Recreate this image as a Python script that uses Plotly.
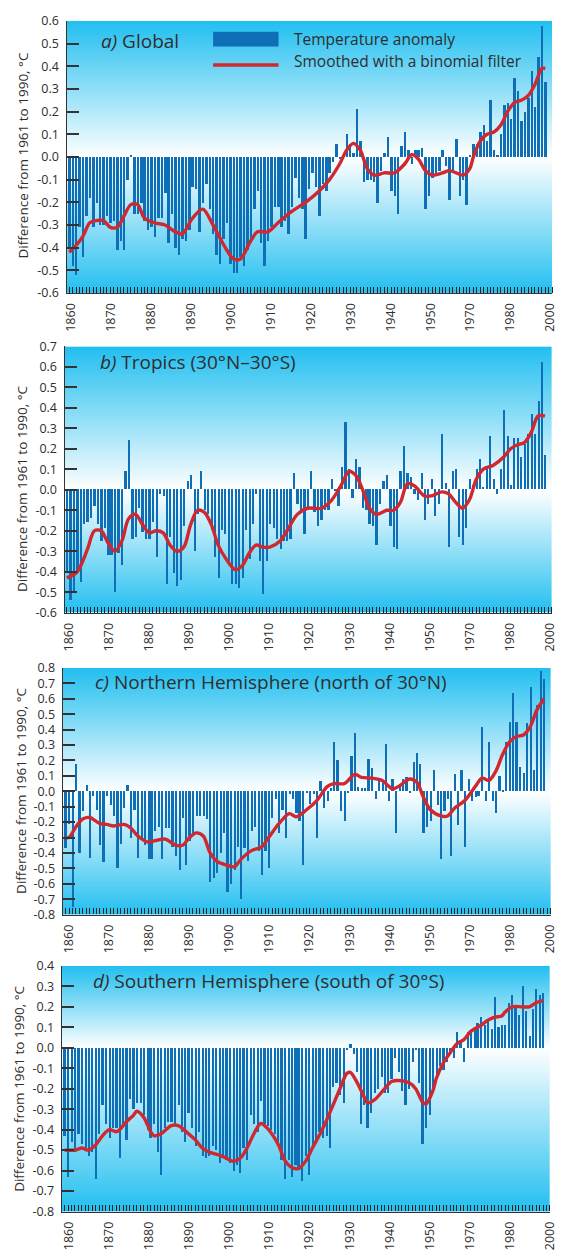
import numpy as np
import plotly.graph_objects as go

W, H = 564, 1258
FONT = "Open Sans"
TXT = "#2e2e2e"
BAR = "#0f6fb6"
RED = "#d0282e"
BG_EDGE = "#22bff0"

years = list(range(1860, 2000))

# ---------------- annual anomalies ----------------
global_anom = [
    -0.40, -0.48, -0.52, -0.31, -0.44, -0.26, -0.18, -0.31, -0.20, -0.30,
    -0.30, -0.26, -0.29, -0.28, -0.41, -0.37, -0.41, -0.10, 0.01, -0.25,
    -0.25, -0.20, -0.28, -0.32, -0.31, -0.35, -0.27, -0.27, -0.16, -0.38,
    -0.25, -0.40, -0.43, -0.36, -0.37, -0.32, -0.13, -0.14, -0.33, -0.20,
    -0.12, -0.23, -0.34, -0.43, -0.47, -0.36, -0.29, -0.47, -0.51, -0.51,
    -0.44, -0.48, -0.41, -0.38, -0.23, -0.15, -0.38, -0.48, -0.37, -0.31,
    -0.22, -0.22,
    -0.31, -0.28, -0.34, -0.22, -0.09, -0.18, -0.23, -0.36, -0.14, -0.07,
    -0.13, -0.26, -0.12, -0.15, -0.07, -0.02, 0.06, -0.01, 0.01, 0.10,
    0.06, 0.02, 0.21, 0.07, -0.11, -0.10, -0.10, -0.11, -0.20, -0.06,
    0.02, 0.09, -0.15, -0.17, -0.25, 0.05, 0.11, 0.03, -0.03, 0.03,
    0.03, 0.04, -0.23, -0.17, -0.09, -0.08, -0.06, 0.03, -0.04, -0.19,
    -0.06, 0.08, -0.17, -0.10, -0.21, 0.01, 0.06, 0.06, 0.11, 0.14,
    0.07, 0.25, 0.03, 0.01, 0.10, 0.23, 0.24, 0.17, 0.35, 0.29,
    0.16, 0.20, 0.26, 0.38, 0.22, 0.44, 0.58, 0.33,
]

tropics_anom = [
    -0.40, -0.54, -0.50, -0.40, -0.45, -0.17, -0.16, -0.14, -0.08, -0.17,
    -0.25, -0.19, -0.32, -0.32, -0.50, -0.31, -0.37, 0.09, 0.24, -0.24,
    -0.23, -0.09, -0.21, -0.24, -0.24, -0.16, -0.33, -0.02, -0.03, -0.46,
    -0.23, -0.41, -0.47, -0.44, -0.18, 0.04, 0.07, -0.30, -0.12, 0.09,
    -0.10, -0.12, -0.20, -0.33, -0.43, -0.20, -0.22, -0.35, -0.46, -0.46,
    -0.48, -0.43, -0.20, -0.34, -0.17, -0.02, -0.35, -0.51, -0.35, -0.17,
    -0.19, -0.24,
    -0.29, -0.25, -0.25, -0.24, 0.08, -0.07, -0.11, -0.22, -0.10, 0.09,
    -0.11, -0.18, -0.15, -0.10, -0.10, 0.05, -0.01, -0.08, 0.11, 0.33,
    0.10, -0.04, 0.15, 0.11, -0.09, -0.10, -0.17, -0.18, -0.27, -0.07,
    0.04, 0.07, -0.18, -0.28, -0.29, 0.09, 0.21, 0.08, 0.06, -0.02,
    -0.05, 0.08, -0.15, -0.07, 0.05, -0.13, -0.07, 0.27, 0.03, -0.28,
    0.09, 0.10, -0.23, -0.27, -0.19, 0.05, 0.02, 0.10, 0.15, 0.01,
    0.11, 0.26, 0.05, -0.02, 0.10, 0.39, 0.26, 0.02, 0.25, 0.25,
    0.16, 0.22, 0.27, 0.37, 0.27, 0.43, 0.62, 0.17,
]

nh_anom = [
    -0.37, -0.21, -0.75, 0.18, -0.40, -0.13, 0.04, -0.43, -0.03, -0.12,
    -0.35, -0.46, -0.03, -0.09, -0.16, -0.50, -0.34, -0.11, 0.04, -0.30,
    -0.12, -0.43, -0.31, -0.35, -0.44, -0.44, -0.26, -0.23, -0.44, -0.24,
    -0.24, -0.36, -0.42, -0.51, -0.17, -0.48, -0.32, -0.29, -0.16, -0.16,
    -0.16, -0.18, -0.59, -0.56, -0.53, -0.40, -0.27, -0.65, -0.60, -0.51,
    -0.36, -0.70, -0.37, -0.45, -0.26, -0.23, -0.39, -0.54, -0.39, -0.50,
    -0.17, -0.05,
    -0.27, -0.12, -0.30, -0.02, -0.05, -0.14, -0.19, -0.48, -0.01, -0.08,
    -0.02, -0.30, 0.07, -0.11, -0.06, 0.02, 0.32, 0.20, -0.13, -0.19,
    -0.01, 0.23, 0.38, 0.03, 0.02, 0.02, 0.21, 0.15, -0.05, 0.07,
    0.06, 0.31, -0.06, 0.08, -0.27, 0.05, 0.08, 0.09, -0.01, 0.19,
    0.25, 0.18, -0.27, -0.23, -0.19, 0.14, -0.09, -0.44, -0.13, -0.05,
    -0.42, 0.11, -0.22, 0.14, -0.36, 0.08, -0.06, -0.04, -0.03, 0.42,
    -0.06, 0.32, -0.06, -0.14, 0.10, 0.01, 0.32, 0.45, 0.64, 0.45,
    0.16, 0.12, 0.44, 0.68, 0.14, 0.56, 0.78, 0.73,
]

sh_anom = [
    -0.43, -0.63, -0.46, -0.51, -0.42, -0.47, -0.49, -0.53, -0.51, -0.64,
    -0.42, -0.28, -0.37, -0.44, -0.39, -0.39, -0.54, -0.38, -0.45, -0.25,
    -0.30, -0.27, -0.27, -0.33, -0.40, -0.44, -0.37, -0.51, -0.62, -0.39,
    -0.36, -0.36, -0.38, -0.28, -0.41, -0.46, -0.32, -0.39, -0.48, -0.41,
    -0.53, -0.54, -0.53, -0.48, -0.50, -0.56, -0.53, -0.55, -0.56, -0.60,
    -0.57, -0.61, -0.49, -0.55, -0.33, -0.37, -0.41, -0.26, -0.37, -0.38,
    -0.40, -0.42,
    -0.46, -0.55, -0.64, -0.55, -0.63, -0.57, -0.59, -0.65, -0.53, -0.62,
    -0.49, -0.46, -0.41, -0.44, -0.43, -0.49, -0.19, -0.17, -0.23, -0.27,
    -0.01, 0.02, -0.03, -0.12, -0.37, -0.28, -0.39, -0.32, -0.22, -0.20,
    -0.14, -0.22, -0.22, -0.15, -0.05, -0.12, -0.21, -0.28, -0.20, -0.07,
    -0.01, -0.17, -0.47, -0.39, -0.33, -0.21, -0.15, -0.09, -0.11, -0.07,
    -0.02, -0.05, 0.08, 0.04, -0.07, 0.08, 0.08, 0.10, 0.12, 0.15,
    0.11, 0.13, 0.09, 0.25, 0.10, 0.11, 0.11, 0.22, 0.26, 0.21,
    0.16, 0.30, 0.18, 0.06, 0.19, 0.29, 0.26, 0.27,
]

# ---------------- smoothed curves ----------------
global_sm_years = [1860, 1862, 1864, 1866, 1868, 1870, 1872, 1874, 1876, 1878,
                   1880, 1882, 1885, 1888, 1891, 1893, 1896, 1899, 1902, 1906,
                   1908, 1910, 1913, 1915, 1918, 1921, 1925, 1929, 1933, 1936,
                   1939, 1941, 1943, 1945, 1947, 1949, 1952, 1955, 1958, 1960,
                   1962, 1964, 1966, 1969, 1971, 1973, 1975, 1977, 1978, 1980,
                   1982, 1984, 1986, 1988, 1990, 1992, 1994, 1996, 1998, 1999]
global_sm = [-0.42, -0.39, -0.35, -0.29, -0.28, -0.28, -0.31, -0.31, -0.26, -0.21,
             -0.21, -0.27, -0.29, -0.30, -0.33, -0.34, -0.27, -0.23, -0.30, -0.41,
             -0.45, -0.45, -0.37, -0.33, -0.33, -0.29, -0.24, -0.20, -0.15, -0.10,
             -0.03, 0.03, 0.06, 0.03, -0.05, -0.08, -0.07, -0.07, -0.03, 0.01,
             -0.01, -0.06, -0.08, -0.07, -0.06, -0.07, -0.08, -0.05, 0.00, 0.07,
             0.10, 0.11, 0.14, 0.20, 0.24, 0.25, 0.27, 0.32, 0.39, 0.39]

tropics_sm_years = [1860, 1863, 1866, 1868, 1870, 1872, 1874, 1876, 1878, 1880,
                    1882, 1884, 1886, 1888, 1890, 1892, 1894, 1896, 1898, 1900,
                    1902, 1904, 1906, 1909, 1911, 1913, 1915, 1917, 1919, 1922,
                    1924, 1927, 1930, 1934, 1937, 1940, 1942, 1944, 1946, 1948,
                    1950, 1953, 1955, 1957, 1959, 1961, 1964, 1966, 1969, 1971,
                    1973, 1975, 1977, 1979, 1981, 1984, 1987, 1989, 1991, 1993,
                    1995, 1997, 1999]
tropics_sm = [-0.43, -0.40, -0.29, -0.20, -0.20, -0.26, -0.30, -0.25, -0.14, -0.12,
              -0.17, -0.21, -0.20, -0.21, -0.27, -0.30, -0.28, -0.17, -0.10, -0.11,
              -0.17, -0.27, -0.33, -0.39, -0.37, -0.31, -0.27, -0.28, -0.28, -0.25,
              -0.20, -0.12, -0.09, -0.09, -0.05, 0.03, 0.09, 0.07, 0.00, -0.09,
              -0.12, -0.10, -0.10, -0.06, 0.03, 0.02, -0.03, -0.03, -0.01, -0.02,
              -0.06, -0.09, -0.05, 0.05, 0.10, 0.12, 0.16, 0.20, 0.22, 0.23,
              0.28, 0.36, 0.36]

nh_sm_years = [1860, 1861, 1863, 1865, 1867, 1870, 1872, 1874, 1877, 1879,
               1881, 1884, 1886, 1889, 1892, 1894, 1896, 1898, 1900, 1902,
               1904, 1907, 1909, 1911, 1914, 1917, 1919, 1922, 1925, 1927,
               1930, 1933, 1936, 1938, 1941, 1944, 1946, 1949, 1952, 1955,
               1957, 1960, 1962, 1964, 1966, 1969, 1971, 1973, 1976, 1979,
               1981, 1983, 1985, 1987, 1989, 1991, 1993, 1995, 1997, 1999]
nh_sm = [-0.30, -0.30, -0.23, -0.18, -0.17, -0.21, -0.215, -0.225, -0.215, -0.24,
         -0.29, -0.33, -0.32, -0.31, -0.35, -0.35, -0.30, -0.27, -0.29, -0.40,
         -0.455, -0.48, -0.49, -0.44, -0.385, -0.36, -0.30, -0.21, -0.145, -0.165,
         -0.12, -0.06, 0.03, 0.05, 0.05, 0.11, 0.09, 0.085, 0.07, 0.015,
         0.035, 0.08, 0.06, -0.04, -0.12, -0.16, -0.16, -0.11, -0.06, 0.03,
         0.085, 0.07, 0.13, 0.24, 0.32, 0.355, 0.365, 0.42, 0.53, 0.60]

sh_sm_years = [1860, 1863, 1865, 1867, 1869, 1871, 1873, 1875, 1876, 1878,
               1880, 1881, 1883, 1885, 1886, 1888, 1891, 1893, 1896, 1898,
               1900, 1902, 1905, 1907, 1909, 1911, 1913, 1915, 1917, 1919,
               1922, 1924, 1926, 1928, 1930, 1932, 1935, 1938, 1940, 1942,
               1943, 1945, 1947, 1948, 1950, 1953, 1955, 1957, 1960, 1962,
               1964, 1965, 1967, 1968, 1970, 1972, 1974, 1976, 1978, 1981,
               1983, 1985, 1987, 1988, 1990, 1993, 1995, 1997, 1999]
sh_sm = [-0.50, -0.50, -0.49, -0.50, -0.475, -0.43, -0.40, -0.41, -0.40, -0.36,
         -0.33, -0.31, -0.34, -0.41, -0.43, -0.42, -0.38, -0.38, -0.42, -0.45,
         -0.49, -0.51, -0.525, -0.54, -0.555, -0.54, -0.49, -0.42, -0.37, -0.395,
         -0.47, -0.55, -0.585, -0.59, -0.555, -0.49, -0.395, -0.28, -0.20, -0.125,
         -0.12, -0.17, -0.24, -0.27, -0.255, -0.20, -0.165, -0.16, -0.17, -0.20,
         -0.265, -0.275, -0.21, -0.15, -0.075, -0.025, 0.02, 0.04, 0.08, 0.11,
         0.135, 0.15, 0.155, 0.175, 0.20, 0.20, 0.20, 0.22, 0.23]

# ---------------- tick labels ----------------
x_labels = ["1860", "1870", "1880", "1890", "1900", "1910", "1920",
            "1930", "1940", "1950", "1970", "1980", "2000"]
global_yticks = [0.6, 0.5, 0.4, 0.3, 0.2, 0.1, 0.0, -0.1, -0.2, -0.3, -0.4, -0.5, -0.6]
tropics_yticks = [0.7, 0.6, 0.5, 0.4, 0.3, 0.2, 0.1, 0.0, -0.1, -0.2, -0.3, -0.4, -0.5, -0.6]
nh_yticks = [0.8, 0.7, 0.6, 0.5, 0.4, 0.3, 0.2, 0.1, 0.0, -0.1, -0.2, -0.3, -0.4,
             -0.5, -0.6, -0.7, -0.8]
sh_yticks = [0.4, 0.3, 0.2, 0.1, 0.0, -0.1, -0.2, -0.3, -0.4, -0.5, -0.6, -0.7, -0.8]

y_title = "Difference from 1961 to 1990, °C"

panels = [
    dict(title="<i>a)</i> Global", anom=global_anom, smy=global_sm_years, smv=global_sm,
         yticks=global_yticks, box=(63, 560, 12, 288), xr=(1859.23, 2001.0),
         lab=(68, 558), title_xy=(96, 32), ytitle_xy=(18, 149)),
    dict(title="<i>b)</i> Tropics (30°N–30°S)", anom=tropics_anom, smy=tropics_sm_years,
         smv=tropics_sm, yticks=tropics_yticks, box=(61, 560, 342, 612),
         xr=(1859.35, 2001.07), lab=(65, 558), title_xy=(95, 358), ytitle_xy=(18, 487)),
    dict(title="<i>c)</i> Northern Hemisphere (north of 30°N)", anom=nh_anom, smy=nh_sm_years,
         smv=nh_sm, yticks=nh_yticks, box=(59, 559, 668, 918), xr=(1859.15, 2001.07),
         lab=(65, 558), title_xy=(90, 682), ytitle_xy=(17, 793)),
    dict(title="<i>d)</i> Southern Hemisphere (south of 30°S)", anom=sh_anom, smy=sh_sm_years,
         smv=sh_sm, yticks=sh_yticks, box=(58, 558, 970, 1219), xr=(1859.15, 2001.07),
         lab=(65, 558), title_xy=(88, 985), ytitle_xy=(15, 1095)),
]

fig = go.Figure()
annotations = []
shapes = []

for i, p in enumerate(panels):
    n = "" if i == 0 else str(i + 1)
    xa, ya = "x" + n, "y" + n
    left, right, top, bottom = p["box"]
    r0, r1 = p["xr"]
    ymax, ymin = max(p["yticks"]), min(p["yticks"])

    # background gradient: cyan at the edges, white at zero
    yy = np.linspace(ymin - 0.05, ymax + 0.05, 161)
    zz = [[min(1.0, v / ymax) if v >= 0 else min(1.0, v / ymin)] * 2 for v in yy]
    fig.add_trace(go.Heatmap(x=[r0 - 3, r1 + 3], y=yy, z=zz, zmin=0, zmax=1,
                             colorscale=[[0, "#ffffff"], [1, BG_EDGE]], showscale=False,
                             zsmooth="best", hoverinfo="skip", xaxis=xa, yaxis=ya))
    fig.add_trace(go.Bar(x=years, y=p["anom"], width=0.58, marker_color=BAR,
                         marker_line_width=0, xaxis=xa, yaxis=ya, showlegend=False))
    fig.add_trace(go.Scatter(x=p["smy"], y=p["smv"], mode="lines",
                             line=dict(color=RED, width=3.4, shape="spline", smoothing=0.9),
                             xaxis=xa, yaxis=ya, showlegend=False, hoverinfo="skip"))

    # label positions (evenly spread as in the original figure)
    l0, l1 = p["lab"]
    px = np.linspace(l0, l1, len(x_labels))
    tickpos = [r0 + (v - left) / (right - left) * (r1 - r0) for v in px]

    fig.layout["xaxis" + n] = dict(
        domain=[left / W, right / W], range=[r0, r1], anchor=ya,
        showline=True, linecolor="#333", linewidth=1.2, showgrid=False, zeroline=False,
        tickmode="array", tickvals=tickpos, ticktext=x_labels, ticks="",
        tickangle=-90, ticklabelstandoff=4, ticklabeloverflow="allow",
        tickfont=dict(family=FONT, size=12.5, color=TXT),
        minor=dict(tickmode="linear", tick0=1860, dtick=1, ticks="inside",
                   ticklen=6, tickcolor="#222", tickwidth=1, showgrid=False),
        fixedrange=True,
    )
    fig.layout["yaxis" + n] = dict(
        domain=[1 - bottom / H, 1 - top / H], range=[ymin, ymax], anchor=xa,
        showline=True, linecolor="#333", linewidth=1.2, showgrid=False, zeroline=False,
        tickmode="array", tickvals=p["yticks"], ticktext=[f"{v:.1f}" for v in p["yticks"]],
        ticks="inside", ticklen=12, tickwidth=1.5, tickcolor="#333", ticklabelstandoff=4,
        tickfont=dict(family=FONT, size=12.5, color=TXT), fixedrange=True,
    )

    tx, ty = p["title_xy"]
    annotations.append(dict(text=p["title"], x=tx / W, y=1 - ty / H, xref="paper", yref="paper",
                            xanchor="left", yanchor="middle", showarrow=False,
                            font=dict(family=FONT, size=19, color=TXT)))
    yx, yc = p["ytitle_xy"]
    annotations.append(dict(text=y_title, x=yx / W, y=1 - yc / H, xref="paper", yref="paper",
                            xanchor="center", yanchor="middle", textangle=-90, showarrow=False,
                            font=dict(family=FONT, size=13.5, color=TXT)))

# legend (panel a)
shapes.append(dict(type="rect", xref="paper", yref="paper", x0=213 / W, x1=280 / W,
                   y0=1 - 38 / H, y1=1 - 23 / H, fillcolor=BAR, line=dict(width=0)))
shapes.append(dict(type="line", xref="paper", yref="paper", x0=213 / W, x1=280 / W,
                   y0=1 - 56.7 / H, y1=1 - 56.7 / H, line=dict(color=RED, width=3.4)))
annotations.append(dict(text="Temperature anomaly", x=294 / W, y=1 - 30.5 / H,
                        xref="paper", yref="paper", xanchor="left", yanchor="middle",
                        showarrow=False, font=dict(family=FONT, size=15.5, color=TXT)))
annotations.append(dict(text="Smoothed with a binomial filter", x=294 / W, y=1 - 53 / H,
                        xref="paper", yref="paper", xanchor="left", yanchor="middle",
                        showarrow=False, font=dict(family=FONT, size=15.5, color=TXT)))

fig.update_layout(width=W, height=H, autosize=False, margin=dict(l=0, r=0, t=0, b=0),
                  paper_bgcolor="white", plot_bgcolor="white", showlegend=False,
                  bargap=0, annotations=annotations, shapes=shapes,
                  font=dict(family=FONT, color=TXT))

fig.write_html("out.html", config={"displayModeBar": False})
